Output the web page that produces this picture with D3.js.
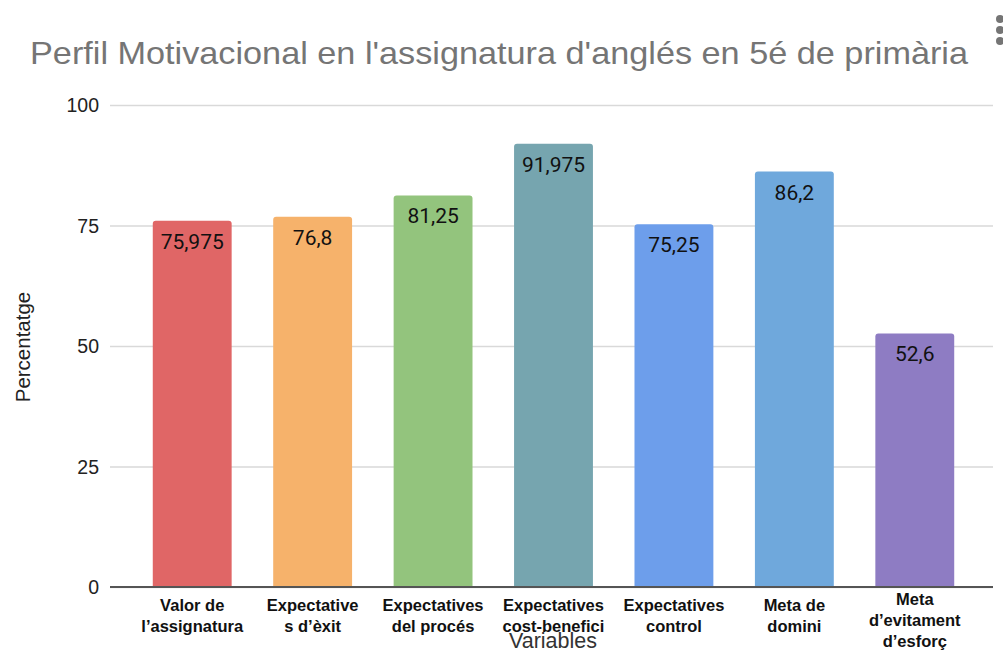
<!DOCTYPE html>
<html>
<head>
<meta charset="utf-8">
<script src="https://cdn.jsdelivr.net/npm/d3@7"></script>
<style>
  body { margin: 0; background: #fff; }
  svg { display: block; }
</style>
</head>
<body>
<div id="chart"></div>
<script>
// dades del gràfic
var categories = ["Valor de\nl\u2019assignatura", "Expectative\ns d\u2019\u00e8xit", "Expectatives\ndel proc\u00e9s",
                  "Expectatives\ncost-benefici", "Expectatives\ncontrol", "Meta de\ndomini", "Meta\nd\u2019evitament\nd\u2019esfor\u00e7"];
var valors = [75.975, 76.8, 81.25, 91.975, 75.25, 86.2, 52.6];
var colors = ["#e06666", "#f6b26b", "#93c47d", "#76a5af", "#6d9eeb", "#6fa8dc", "#8e7cc3"];
var yTicks = [0, 25, 50, 75, 100];
var titol = "Perfil Motivacional en l'assignatura d'angl\u00e9s en 5\u00e9 de prim\u00e0ria";

var width = 1003, height = 651;
var font = "'Liberation Sans', Arial, sans-serif";

var svg = d3.select("#chart").append("svg")
    .attr("width", width)
    .attr("height", height);

var x = d3.scaleBand()
    .domain(categories)
    .range([132, 975])
    .paddingInner(0.345)
    .paddingOuter(0.1725);

var y = d3.scaleLinear()
    .domain([0, 100])
    .range([587, 105]);

var locale = d3.formatLocale({decimal: ",", thousands: ".", grouping: [3], currency: ["", "\u20ac"]});
var fmt = locale.format("~g");

// títol
svg.append("text")
    .attr("x", 30)
    .attr("y", 64)
    .attr("font-family", font)
    .attr("font-size", 32)
    .attr("textLength", 938)
    .attr("lengthAdjust", "spacingAndGlyphs")
    .attr("fill", "#757575")
    .text(titol);

// menú de tres punts
svg.append("g").selectAll("circle")
    .data([19, 30, 41])
    .enter().append("circle")
    .attr("cx", 1000)
    .attr("cy", function(d) { return d; })
    .attr("r", 4)
    .attr("fill", "#757575");

// línies de la graella
svg.append("g")
    .attr("transform", "translate(110,0)")
    .call(d3.axisLeft(y).tickValues(yTicks).tickSize(-883).tickFormat(""))
    .call(function(g) {
        g.select(".domain").remove();
        g.selectAll(".tick line").attr("stroke", "#d9d9d9").attr("stroke-width", 1.5);
    });

// etiquetes eix Y
svg.append("g").selectAll("text")
    .data(yTicks)
    .enter().append("text")
    .attr("x", 99)
    .attr("y", function(d) { return y(d) + 7; })
    .attr("text-anchor", "end")
    .attr("font-family", font)
    .attr("font-size", 19.5)
    .attr("fill", "#222")
    .text(function(d) { return d; });

// barres amb cantonades superiors arrodonides
function barPath(x0, y0, w, h, r) {
    return "M" + x0 + "," + (y0 + h) +
        "V" + (y0 + r) +
        "Q" + x0 + "," + y0 + " " + (x0 + r) + "," + y0 +
        "H" + (x0 + w - r) +
        "Q" + (x0 + w) + "," + y0 + " " + (x0 + w) + "," + (y0 + r) +
        "V" + (y0 + h) + "Z";
}

svg.append("g").selectAll("path")
    .data(valors)
    .enter().append("path")
    .attr("d", function(d, i) {
        return barPath(x(categories[i]), y(d), x.bandwidth(), y(0) - y(d), 3);
    })
    .attr("fill", function(d, i) { return colors[i]; });

// valors dins de les barres
svg.append("g").selectAll("text")
    .data(valors)
    .enter().append("text")
    .attr("x", function(d, i) { return x(categories[i]) + x.bandwidth() / 2; })
    .attr("y", function(d) { return y(d) + 28; })
    .attr("text-anchor", "middle")
    .attr("font-family", "Roboto, sans-serif")
    .attr("font-size", 21)
    .attr("fill", "#111")
    .text(function(d) { return fmt(d); });

// línia base
svg.append("line")
    .attr("x1", 110).attr("x2", 993)
    .attr("y1", y(0)).attr("y2", y(0))
    .attr("stroke", "#555")
    .attr("stroke-width", 2);

// etiquetes eix X
var xl = svg.append("g").selectAll("text")
    .data(categories)
    .enter().append("text")
    .attr("text-anchor", "middle")
    .attr("font-family", font)
    .attr("font-size", 16.5)
    .attr("font-weight", "bold")
    .attr("fill", "#111");

xl.each(function(d) {
    var lines = d.split("\n");
    var y0 = lines.length === 3 ? 605 : 611;
    var cx = x(d) + x.bandwidth() / 2;
    d3.select(this).selectAll("tspan")
        .data(lines)
        .enter().append("tspan")
        .attr("x", cx)
        .attr("y", function(l, j) { return y0 + j * 21; })
        .text(function(l) { return l; });
});

// títols dels eixos
svg.append("text")
    .attr("x", 553)
    .attr("y", 648)
    .attr("text-anchor", "middle")
    .attr("font-family", font)
    .attr("font-size", 21.5)
    .attr("fill", "#333")
    .text("Variables");

svg.append("text")
    .attr("transform", "translate(30,347) rotate(-90)")
    .attr("text-anchor", "middle")
    .attr("font-family", font)
    .attr("font-size", 20.5)
    .attr("fill", "#222")
    .text("Percentatge");
</script>
</body>
</html>
